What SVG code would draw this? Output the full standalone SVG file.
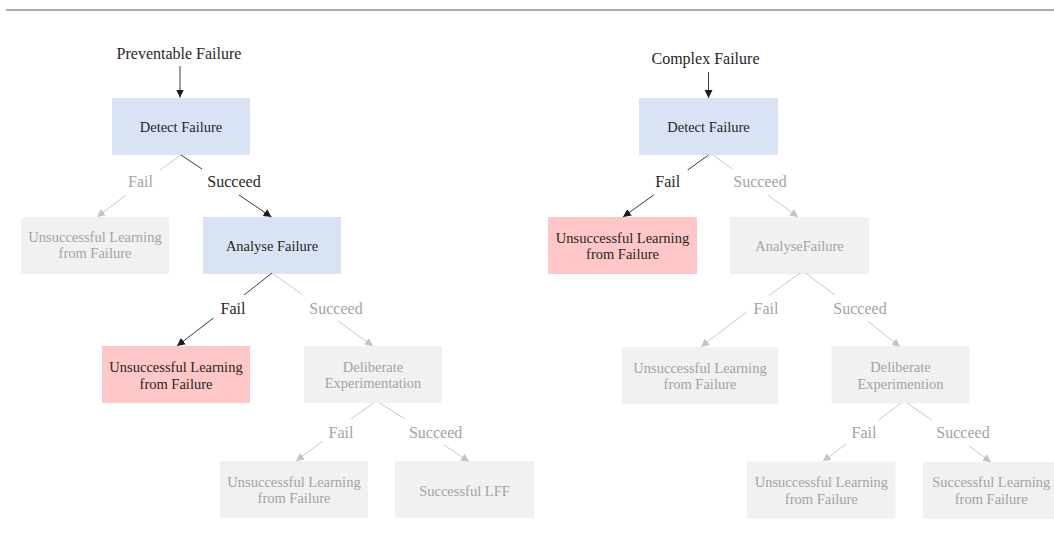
<svg xmlns="http://www.w3.org/2000/svg" width="1054" height="548" viewBox="0 0 1054 548">
  <defs>
    <style>
      text { font-family: "Liberation Serif", "Times New Roman", serif; text-anchor: middle; }
      .box-text { font-family: "Liberation Serif", "Times New Roman", serif; font-size: 14.5px; }
      .lbl { font-family: "Liberation Serif", "Times New Roman", serif; font-size: 16px; }
      .title { font-family: "Liberation Serif", "Times New Roman", serif; font-size: 16px; fill: #262626; }
      .dark { fill: #262626; }
      .light { fill: #a3a3a3; }
      .blue { fill: #dae3f3; }
      .grey { fill: #f1f1f1; }
      .red { fill: #ffc7c7; }
      .ln-dark { stroke: #3a3a3a; stroke-width: 1; fill: none; }
      .ln-light { stroke: #c9c9c9; stroke-width: 1; fill: none; }
      .arr-dark { marker-end: url(#head-dark); }
      .arr-light { marker-end: url(#head-light); }
    </style>
    <marker id="head-dark" viewBox="0 0 8 8" refX="8" refY="4" markerWidth="8" markerHeight="8" markerUnits="userSpaceOnUse" orient="auto">
      <path d="M0,0 L8,4 L0,8 z" fill="#1a1a1a"/>
    </marker>
    <marker id="head-light" viewBox="0 0 8 8" refX="8" refY="4" markerWidth="8" markerHeight="8" markerUnits="userSpaceOnUse" orient="auto">
      <path d="M0,0 L8,4 L0,8 z" fill="#c4c4c4"/>
    </marker>
  </defs>

  <rect x="0" y="0" width="1054" height="548" fill="#ffffff"/>
  <line x1="6" y1="10" x2="1054" y2="10" stroke="#595959" stroke-width="1"/>

  <!-- ===== Preventable failure tree ===== -->
  <g id="title-preventable">
    <text class="title" x="179" y="58.5">Preventable Failure</text>
  </g>
  <g id="detect-preventable">
    <rect class="blue" x="112" y="98" width="138" height="57"/>
    <text class="box-text dark" x="181" y="131.5">Detect Failure</text>
  </g>
  <g id="unsuccessful-p1">
    <rect class="grey" x="21" y="217" width="148" height="57"/>
    <text class="box-text light" x="95" y="242">Unsuccessful Learning</text>
    <text class="box-text light" x="95" y="258">from Failure</text>
  </g>
  <g id="analyse-preventable">
    <rect class="blue" x="203" y="217" width="138" height="57"/>
    <text class="box-text dark" x="272" y="250.5">Analyse Failure</text>
  </g>
  <g id="unsuccessful-p2">
    <rect class="red" x="102" y="346" width="148" height="57"/>
    <text class="box-text dark" x="176" y="372">Unsuccessful Learning</text>
    <text class="box-text dark" x="176" y="388.5">from Failure</text>
  </g>
  <g id="experiment-preventable">
    <rect class="grey" x="304" y="346" width="138" height="57"/>
    <text class="box-text light" x="373" y="371.5">Deliberate</text>
    <text class="box-text light" x="373" y="388">Experimentation</text>
  </g>
  <g id="unsuccessful-p3">
    <rect class="grey" x="220" y="461" width="148" height="57"/>
    <text class="box-text light" x="294" y="486.5">Unsuccessful Learning</text>
    <text class="box-text light" x="294" y="503">from Failure</text>
  </g>
  <g id="successful-preventable">
    <rect class="grey" x="395" y="461" width="139" height="57"/>
    <text class="box-text light" x="464.5" y="495.5">Successful LFF</text>
  </g>

  <!-- ===== Complex failure tree ===== -->
  <g id="title-complex">
    <text class="title" x="705.5" y="64">Complex Failure</text>
  </g>
  <g id="detect-complex">
    <rect class="blue" x="639" y="98" width="139" height="57"/>
    <text class="box-text dark" x="708.5" y="132">Detect Failure</text>
  </g>
  <g id="unsuccessful-c1">
    <rect class="red" x="548" y="217" width="149" height="57"/>
    <text class="box-text dark" x="622.5" y="242.5">Unsuccessful Learning</text>
    <text class="box-text dark" x="622.5" y="258.5">from Failure</text>
  </g>
  <g id="analyse-complex">
    <rect class="grey" x="730" y="217" width="139" height="57"/>
    <text class="box-text light" x="799.5" y="251">AnalyseFailure</text>
  </g>
  <g id="unsuccessful-c2">
    <rect class="grey" x="622" y="347" width="156" height="57"/>
    <text class="box-text light" x="700" y="372.5">Unsuccessful Learning</text>
    <text class="box-text light" x="700" y="388.5">from Failure</text>
  </g>
  <g id="experiment-complex">
    <rect class="grey" x="831.5" y="346" width="138" height="57.5"/>
    <text class="box-text light" x="900.5" y="372">Deliberate</text>
    <text class="box-text light" x="900.5" y="388.5">Experimention</text>
  </g>
  <g id="unsuccessful-c3">
    <rect class="grey" x="747" y="461.5" width="148.5" height="57"/>
    <text class="box-text light" x="821.3" y="487">Unsuccessful Learning</text>
    <text class="box-text light" x="821.3" y="503.5">from Failure</text>
  </g>
  <g id="successful-complex">
    <rect class="grey" x="923" y="462" width="138" height="57"/>
    <text class="box-text light" x="991.2" y="487">Successful Learning</text>
    <text class="box-text light" x="991.2" y="503.5">from Failure</text>
  </g>

  <!-- ===== Connectors with branch labels ===== -->
  <g id="connectors">
    <!-- preventable -->
    <line class="ln-dark arr-dark" x1="180" y1="66" x2="180" y2="97.5"/>
    <line class="ln-light" x1="181" y1="155" x2="160" y2="170"/>
    <line class="ln-dark" x1="181" y1="155" x2="202" y2="169"/>
    <text class="lbl light" x="140.5" y="187">Fail</text>
    <text class="lbl dark" x="234" y="187">Succeed</text>
    <line class="ln-light arr-light" x1="126" y1="195" x2="97" y2="217"/>
    <line class="ln-dark arr-dark" x1="239" y1="195" x2="271.5" y2="217"/>

    <line class="ln-dark" x1="272" y1="273" x2="244" y2="295"/>
    <line class="ln-light" x1="272" y1="273" x2="303" y2="295"/>
    <text class="lbl dark" x="233" y="313.5">Fail</text>
    <text class="lbl light" x="336" y="313.5">Succeed</text>
    <line class="ln-dark arr-dark" x1="213.5" y1="318" x2="177" y2="346"/>
    <line class="ln-light arr-light" x1="338" y1="321" x2="373" y2="346"/>

    <line class="ln-light" x1="373.5" y1="403" x2="351" y2="419"/>
    <line class="ln-light" x1="379.5" y1="403" x2="405" y2="419"/>
    <text class="lbl light" x="341" y="438">Fail</text>
    <text class="lbl light" x="435.6" y="438">Succeed</text>
    <line class="ln-light arr-light" x1="322.7" y1="441" x2="296" y2="461"/>
    <line class="ln-light arr-light" x1="444" y1="445" x2="469" y2="461.5"/>

    <!-- complex -->
    <line class="ln-dark arr-dark" x1="708.5" y1="72" x2="708.5" y2="98"/>
    <line class="ln-dark" x1="708.5" y1="155" x2="687.7" y2="170"/>
    <line class="ln-light" x1="713" y1="155" x2="732.5" y2="169"/>
    <text class="lbl dark" x="667.7" y="187">Fail</text>
    <text class="lbl light" x="760" y="187">Succeed</text>
    <line class="ln-dark arr-dark" x1="653.7" y1="195" x2="623" y2="217"/>
    <line class="ln-light arr-light" x1="768" y1="195" x2="798" y2="217"/>

    <line class="ln-light" x1="800" y1="273" x2="769" y2="295.5"/>
    <line class="ln-light" x1="805.7" y1="273" x2="834.8" y2="295"/>
    <text class="lbl light" x="766" y="314">Fail</text>
    <text class="lbl light" x="860" y="314">Succeed</text>
    <line class="ln-light arr-light" x1="746.6" y1="312" x2="701" y2="346.7"/>
    <line class="ln-light arr-light" x1="867.6" y1="321" x2="900" y2="346.7"/>

    <line class="ln-light" x1="901" y1="403" x2="878.6" y2="420"/>
    <line class="ln-light" x1="907" y1="403" x2="931.7" y2="420"/>
    <text class="lbl light" x="864" y="438">Fail</text>
    <text class="lbl light" x="963" y="438">Succeed</text>
    <line class="ln-light arr-light" x1="846" y1="444" x2="822.8" y2="461.3"/>
    <line class="ln-light arr-light" x1="968.8" y1="445.7" x2="991" y2="462.3"/>
  </g>
</svg>
